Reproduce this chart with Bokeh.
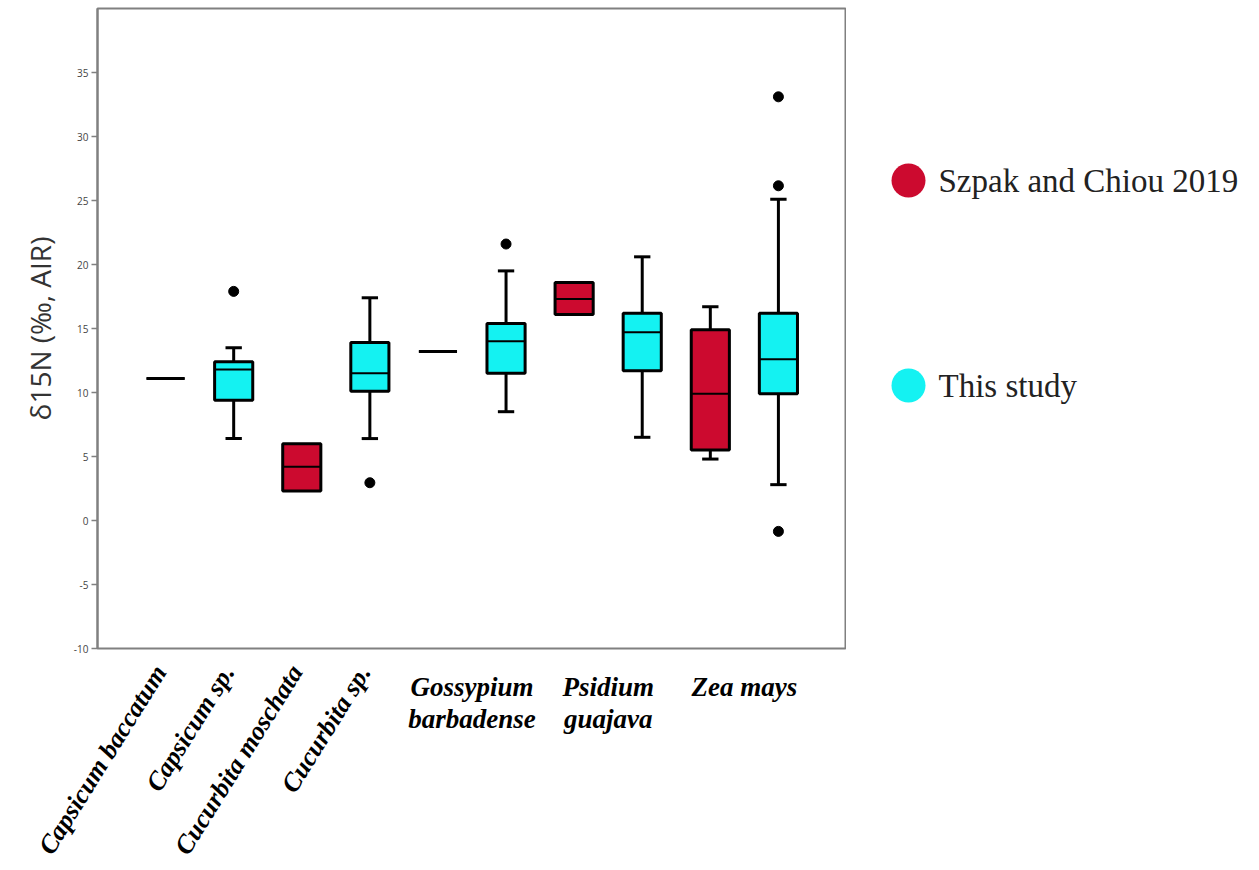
import math
from bokeh.plotting import figure
from bokeh.models import FixedTicker, Range1d, LinearAxis
from bokeh.layouts import row
from bokeh.core.properties import value
from bokeh.embed import file_html
from bokeh.resources import INLINE

# ---------------- data ----------------
species_rotated = ["Capsicum baccatum", "Capsicum sp.", "Cucurbita moschata", "Cucurbita sp."]
rotated_pos = [1, 2, 3, 4]
species_line1 = ["Gossypium", "Psidium", "Zea mays"]
species_line2 = ["barbadense", "guajava", ""]
grouped_pos = [5.5, 7.5, 9.5]

positions = [1, 2, 3, 4, 5, 6, 7, 8, 9, 10]
source = ["This study", "This study", "Szpak and Chiou 2019", "This study",
          "Szpak and Chiou 2019", "This study", "Szpak and Chiou 2019", "This study",
          "Szpak and Chiou 2019", "This study"]
lower = [11.1, 6.4, 2.3, 6.4, 13.2, 8.5, 16.1, 6.5, 4.8, 2.8]
q1 = [11.1, 9.4, 2.3, 10.1, 13.2, 11.5, 16.1, 11.7, 5.5, 9.9]
median = [11.1, 11.8, 4.2, 11.5, 13.2, 14.0, 17.3, 14.7, 9.9, 12.6]
q3 = [11.1, 12.4, 6.0, 13.9, 13.2, 15.4, 18.6, 16.2, 14.9, 16.2]
upper = [11.1, 13.5, 6.0, 17.4, 13.2, 19.5, 18.6, 20.6, 16.7, 25.1]

outlier_x = [2, 4, 6, 10, 10, 10]
outlier_y = [17.9, 2.95, 21.6, -0.85, 26.15, 33.1]

legend_labels = ["Szpak and Chiou 2019", "This study"]
y_ticks = [-10, -5, 0, 5, 10, 15, 20, 25, 30, 35]

RED = "#CC0A2F"
CYAN = "#14F2F2"
colors = {"Szpak and Chiou 2019": RED, "This study": CYAN}

# ---------------- main figure ----------------
p = figure(width=846, height=870, x_range=Range1d(0, 11), y_range=Range1d(-10, 40),
           output_backend="svg", toolbar_location=None, x_axis_location=None,
           min_border_left=97, min_border_right=0, min_border_top=8, min_border_bottom=222)
p.xgrid.visible = False
p.ygrid.visible = False
p.outline_line_color = "#808080"
p.outline_line_width = 2
p.outline_line_alpha = 1
p.background_fill_color = "white"
p.border_fill_color = "white"

ya = p.yaxis[0]
ya.ticker = FixedTicker(ticks=y_ticks)
ya.major_label_overrides = {t: str(t) for t in y_ticks}
ya.axis_line_color = "#808080"
ya.axis_line_width = 2
ya.major_tick_line_color = "#808080"
ya.major_tick_line_width = 1.5
ya.major_tick_out = 6
ya.major_tick_in = 0
ya.minor_tick_line_color = None
ya.major_label_text_font = "Open Sans"
ya.major_label_text_font_size = "10px"
ya.major_label_text_color = "#444444"
ya.major_label_standoff = 3
ya.axis_label = "δ15N (‰, AIR)"
ya.axis_label_text_font = "Open Sans"
ya.axis_label_text_font_size = "28px"
ya.axis_label_text_font_style = "normal"
ya.axis_label_text_color = "#333333"
ya.axis_label_standoff = 12

box_w = 0.56
cap_w = 0.24
fill = [colors[s] for s in source]

# whiskers and caps
wx, wy0, wy1 = [], [], []
cx0, cx1, cy = [], [], []
for x, lo, a, b, hi in zip(positions, lower, q1, q3, upper):
    if hi > b:
        wx.append(x); wy0.append(b); wy1.append(hi)
        cx0.append(x - cap_w / 2); cx1.append(x + cap_w / 2); cy.append(hi)
    if lo < a:
        wx.append(x); wy0.append(a); wy1.append(lo)
        cx0.append(x - cap_w / 2); cx1.append(x + cap_w / 2); cy.append(lo)
p.segment(x0=wx, y0=wy0, x1=wx, y1=wy1, line_color="black", line_width=3)
p.segment(x0=cx0, y0=cy, x1=cx1, y1=cy, line_color="black", line_width=3)

# boxes
p.vbar(x=positions, width=box_w, bottom=q1, top=q3, fill_color=fill,
       line_color="black", line_width=3)
# medians
p.segment(x0=[x - box_w / 2 for x in positions], y0=median,
          x1=[x + box_w / 2 for x in positions], y1=median,
          line_color="black", line_width=2)
# outliers
p.scatter(x=outlier_x, y=outlier_y, size=10, fill_color="black", line_color="black")


# category axes stacked below the frame (standoffs chosen so the labels overlap in height)
def cat_axis(ticks, labels, standoff, size, orientation="horizontal"):
    ax = LinearAxis()
    ax.ticker = FixedTicker(ticks=ticks)
    ax.major_label_overrides = {t: l for t, l in zip(ticks, labels)}
    ax.axis_line_color = None
    ax.major_tick_line_color = None
    ax.minor_tick_line_color = None
    ax.major_tick_out = 0
    ax.major_tick_in = 0
    ax.minor_tick_out = 0
    ax.minor_tick_in = 0
    ax.major_label_standoff = standoff
    ax.major_label_orientation = orientation
    ax.major_label_text_font = "Liberation Serif"
    ax.major_label_text_font_style = "bold italic"
    ax.major_label_text_font_size = size
    ax.major_label_text_color = "black"
    p.add_layout(ax, "below")
    return ax


cat_axis(grouped_pos, species_line1, 23, "27px")
cat_axis([x for x, l in zip(grouped_pos, species_line2) if l],
         [l for l in species_line2 if l], -1, "27px")
rot_ticks = [x - 0.08 for x in rotated_pos]
cat_axis(rot_ticks, species_rotated, -69, "26px", orientation=math.radians(58))

# ---------------- legend figure ----------------
q = figure(width=413, height=870, x_range=Range1d(846, 1259), y_range=Range1d(648, 8),
           output_backend="svg", toolbar_location=None, min_border=0,
           x_axis_location=None, y_axis_location=None)
q.grid.visible = False
q.outline_line_color = None
legend_y = [180, 385]
q.scatter(x=[908, 908], y=legend_y, size=34, fill_color=[RED, CYAN], line_color=None)
q.text(x=[938, 938], y=legend_y, text=legend_labels, text_font=value("Liberation Serif"),
       text_font_size="33px", text_baseline="middle", text_color="#222222")

layout = row(p, q)
open("out.html", "w").write(file_html(layout, INLINE))
